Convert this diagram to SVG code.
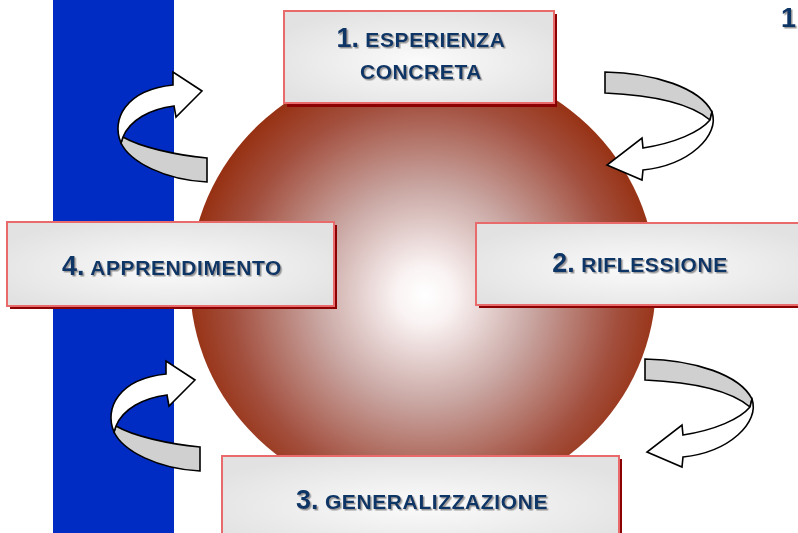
<svg xmlns="http://www.w3.org/2000/svg" width="798" height="533" viewBox="0 0 798 533">
<style>
.sh{fill:#8b0000}
.bx{fill:url(#boxg);stroke:#e86a6a;stroke-width:2}
.t{font-family:"Liberation Sans",Arial,sans-serif;font-weight:bold;fill:#0b3565;filter:url(#ts);text-anchor:middle}
.w{font-size:21px;letter-spacing:0.6px}
.n{font-size:27px;letter-spacing:0}
.ar path{stroke:#000;stroke-width:1.6;stroke-linejoin:miter}
.g{fill:#d0d0d0}
.wh{fill:#fff}
</style>
<defs>
<radialGradient id="ball" gradientUnits="userSpaceOnUse" cx="425" cy="295" r="240">
<stop offset="0" stop-color="#ffffff"/>
<stop offset="0.12" stop-color="#faf3f3"/>
<stop offset="0.45" stop-color="#c9a6a2"/>
<stop offset="0.8" stop-color="#a3503f"/>
<stop offset="1" stop-color="#962f10"/>
</radialGradient>
<radialGradient id="boxg" cx="50%" cy="55%" r="60%">
<stop offset="0" stop-color="#fbfbfb"/>
<stop offset="1" stop-color="#e2e2e2"/>
</radialGradient>
<filter id="ts" x="-10%" y="-30%" width="120%" height="160%">
<feDropShadow dx="1.5" dy="1.5" stdDeviation="0.6" flood-color="#808080" flood-opacity="0.8"/>
</filter>
</defs>
<rect id="bar" x="53" y="0" width="121" height="533" fill="#002cc4"/>
<g id="sphere">
<ellipse cx="423" cy="282" rx="233" ry="222" fill="url(#ball)"/>
</g>
<g id="connectors" class="ar">
<g id="arrow-tl">
<path class="g" d="M207,158 C175,155 140,147 123,137 L121,143 C130,162 165,180 207,182 Z"/>
<path class="wh" d="M121,143 C111,120 125,90 173,85 L173,72 L202,91 L176,117 L174,106 C150,109 130,120 123,137 Z"/>
</g>
<g id="arrow-bl" transform="translate(-7,289)">
<path class="g" d="M207,158 C175,155 140,147 123,137 L121,143 C130,162 165,180 207,182 Z"/>
<path class="wh" d="M121,143 C111,120 125,90 173,85 L173,72 L202,91 L176,117 L174,106 C150,109 130,120 123,137 Z"/>
</g>
<g id="arrow-tr">
<path class="g" d="M605,72 C655,73 700,88 712,112 L710,120 C690,103 650,95 605,93 Z"/>
<path class="wh" d="M712,112 C720,135 690,165 643,170 L642,180 L607,165 L642,138 L643,148 C675,143 700,132 710,120 Z"/>
</g>
<g id="arrow-br" transform="translate(40,287)">
<path class="g" d="M605,72 C655,73 700,88 712,112 L710,120 C690,103 650,95 605,93 Z"/>
<path class="wh" d="M712,112 C720,135 690,165 643,170 L642,180 L607,165 L642,138 L643,148 C675,143 700,132 710,120 Z"/>
</g>
</g>
<g id="box1">
<rect class="sh" x="287" y="14" width="270" height="93"/>
<rect class="bx" x="284" y="11" width="270" height="92"/>
<text class="t" x="421" y="47"><tspan class="n">1.</tspan><tspan class="w"> ESPERIENZA</tspan></text>
<text class="t w" x="421" y="79">CONCRETA</text>
</g>
<g id="box2">
<rect class="sh" x="479" y="226" width="330" height="82"/>
<rect class="bx" x="476" y="223" width="330" height="82"/>
<text class="t" x="640" y="272"><tspan class="n">2.</tspan><tspan class="w"> RIFLESSIONE</tspan></text>
</g>
<g id="box3">
<rect class="sh" x="225" y="459" width="397" height="90"/>
<rect class="bx" x="222" y="456" width="397" height="90"/>
<text class="t" x="422" y="509"><tspan class="n">3.</tspan><tspan class="w"> GENERALIZZAZIONE</tspan></text>
</g>
<g id="box4">
<rect class="sh" x="10" y="225" width="327" height="84"/>
<rect class="bx" x="7" y="222" width="327" height="84"/>
<text class="t" x="172" y="275"><tspan class="n">4.</tspan><tspan class="w"> APPRENDIMENTO</tspan></text>
</g>
<text class="t" x="781" y="27" style="font-size:27px;text-anchor:start">1</text>
</svg>
